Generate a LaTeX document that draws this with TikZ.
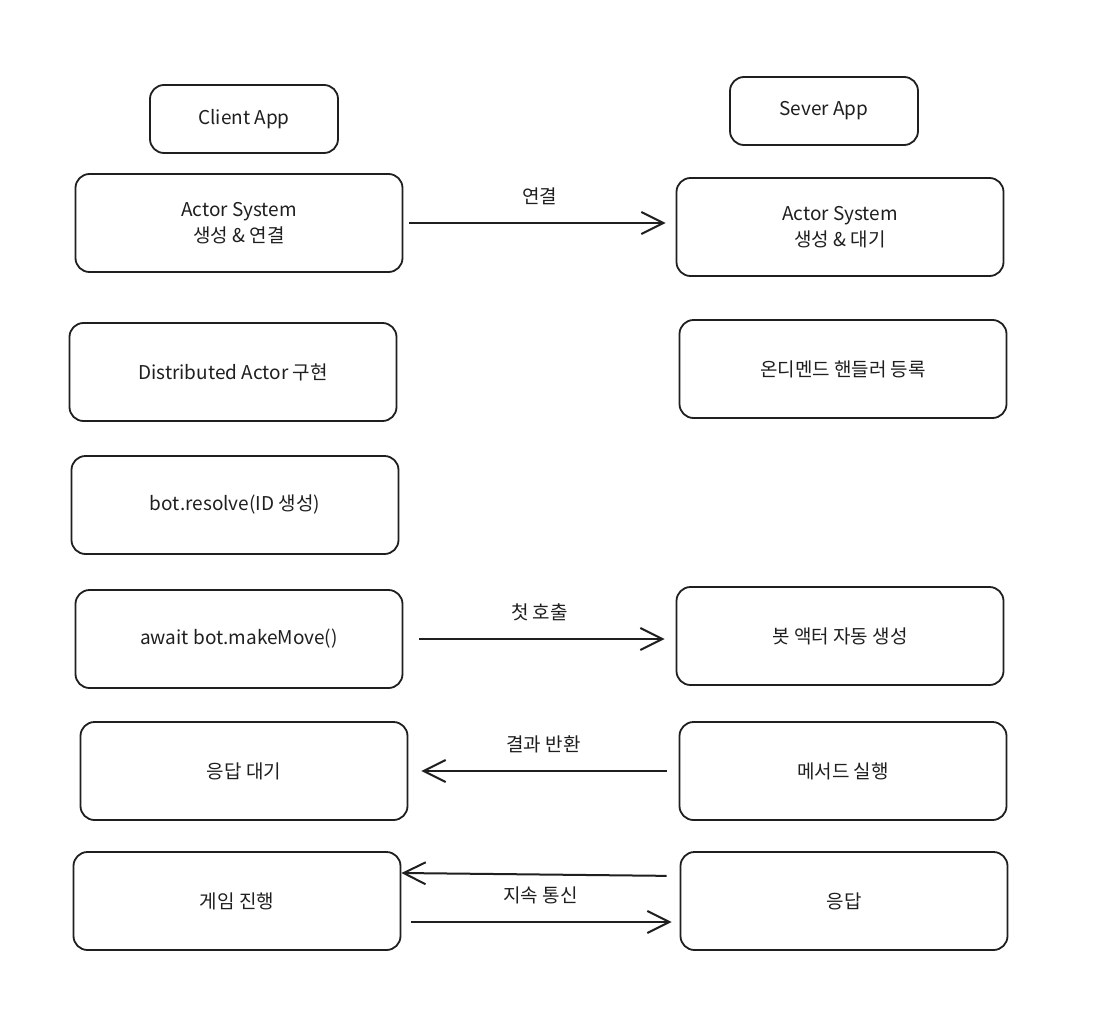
\documentclass[tikz,border=0pt]{standalone}
\usepackage{fontspec}
\setmainfont{Noto Sans CJK KR}
\usetikzlibrary{positioning, arrows.meta, calc}
\definecolor{ink}{rgb}{0.12,0.12,0.12}
\tikzset{
    >={Straight Barb[length=22pt,width=22pt]}, % open chevron heads
    node distance=130pt, % standard row spacing
    box/.style={draw=ink, line width=1.8pt, rounded corners=14pt,
        minimum width=327pt, minimum height=98pt, align=center,
        font=\fontsize{19}{26}\selectfont, text=ink},
    appbox/.style={box, minimum width=188pt, minimum height=68pt},
    link/.style={->, draw=ink, line width=2pt},
    tag/.style={font=\fontsize{19}{26}\selectfont, text=ink},
}

\begin{document}
\begin{tikzpicture}[x=1pt, y=-1pt, on grid, auto]
    \fill[white] (0,0) rectangle (1093,1009);
    \useasboundingbox (0,0) rectangle (1093,1009);

    % client side
    \node[appbox] (capp) at (244,119) {Client App};
    \node[box] (cact) at (239,223) {Actor System\\생성 \& 연결};
    \node[box] (cdist) [below=149pt of cact, xshift=-6pt] {Distributed Actor 구현};
    \node[box] (cres) [below=133pt of cdist, xshift=2pt] {bot.resolve(ID 생성)};
    \node[box] (cmove) [below=134pt of cres, xshift=4pt] {await bot.makeMove()};
    \node[box] (cwait) [below=132pt of cmove, xshift=5pt] {응답 대기};
    \node[box] (cgame) [below=130pt of cwait, xshift=-7pt] {게임 진행};

    % server side
    \node[appbox] (sapp) at (824,111) {Sever App};
    \node[box] (sact) at (840,227) {Actor System\\생성 \& 대기};
    \node[box] (shand) [below=142pt of sact, xshift=3pt] {온디멘드 핸들러 등록};
    \node[box] (sbot) [right=601pt of cmove, yshift=3pt] {봇 액터 자동 생성};
    \node[box] (smeth) [right=599pt of cwait] {메서드 실행};
    \node[box] (sresp) [right=607pt of cgame] {응답};

    \path[link]
        (cact) edge[shorten <=6pt, shorten >=10pt] node[tag, above=14pt] {연결} (cact -| sact.west)
        (cmove) edge[shorten <=16pt, shorten >=11pt] node[tag, above=14pt] {첫 호출} (cmove -| sbot.west)
        (smeth) edge[shorten <=12pt, shorten >=13pt] node[tag, above=14pt] {결과 반환} (smeth -| cwait.east);

    \draw[link, shorten <=13pt] ([yshift=25pt]sresp.west) -- ([yshift=28pt]cgame.east);
    \draw[link, shorten <=10pt, shorten >=8pt] ([yshift=-21pt]cgame.east) -- ([yshift=-21pt]cgame.east -| sresp.west);
    \node[tag, yshift=6pt] (talk) at ($(cgame.east)!0.5!(sresp.west)$) {지속 통신};
\end{tikzpicture}
\end{document}
